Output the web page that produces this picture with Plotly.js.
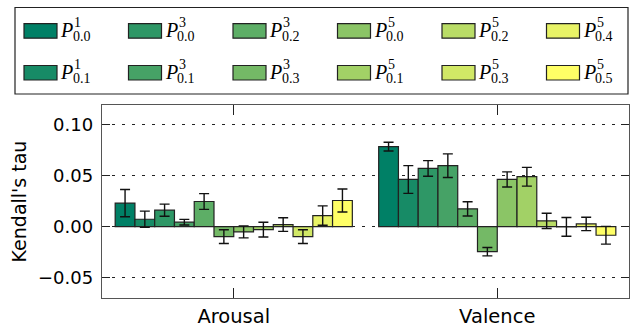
<!DOCTYPE html>
<html>
<head>
<meta charset="utf-8">
<script src="https://cdn.plot.ly/plotly-3.0.1.min.js"></script>
<style>html,body{margin:0;padding:0;background:#fff;}#chart{width:638px;height:329px;}</style>
</head>
<body>
<div id="chart"></div>
<script>
// ---- data ----
const categories = ['Arousal', 'Valence'];
const seriesSup = ['1', '1', '3', '3', '3', '3', '5', '5', '5', '5', '5', '5'];
const seriesSub = ['0.0', '0.1', '0.0', '0.1', '0.2', '0.3', '0.0', '0.1', '0.2', '0.3', '0.4', '0.5'];
const arousalValues = [0.0230, 0.0072, 0.0161, 0.0043, 0.0246, -0.0098, -0.0052, -0.0030, 0.0020, -0.0098, 0.0108, 0.0256];
const arousalErrors = [0.0133, 0.0080, 0.0059, 0.0028, 0.0077, 0.0067, 0.0059, 0.0072, 0.0067, 0.0067, 0.0095, 0.0113];
const valenceValues = [0.0784, 0.0462, 0.0570, 0.0597, 0.0174, -0.0246, 0.0462, 0.0489, 0.0056, -0.0003, 0.0026, -0.0085];
const valenceErrors = [0.0043, 0.0136, 0.0077, 0.0116, 0.0070, 0.0041, 0.0074, 0.0092, 0.0075, 0.0092, 0.0066, 0.0087];
const yTickVals = [-0.05, 0.00, 0.05, 0.10];

// ---- styles ----
const colors = ['#008066', '#178b66', '#2e9766', '#46a266', '#5dae66', '#74b966',
                '#8bc566', '#a2d166', '#b9dc66', '#d1e866', '#e8f366', '#ffff66'];

const W = 638, H = 329;
const M = {l: 102, r: 9, t: 105, b: 31};
const PW = W - M.l - M.r, PH = H - M.t - M.b;
const xp = px => (px - M.l) / PW;
const yp = py => (H - M.b - py) / PH;

const traces = seriesSub.map((s, i) => ({
  type: 'bar',
  x: categories,
  y: [arousalValues[i], valenceValues[i]],
  name: 'P' + seriesSup[i] + '_' + s,
  marker: {color: colors[i], line: {color: '#222', width: 1.2}},
  error_y: {type: 'data', array: [arousalErrors[i], valenceErrors[i]], visible: true,
            color: '#111', thickness: 1.4, width: 5},
  showlegend: false
}));

// manual legend (stacked super/subscripts)
const shapes = [{type: 'rect', xref: 'paper', yref: 'paper',
  x0: xp(15), x1: xp(628), y0: yp(94), y1: yp(7.5),
  line: {color: '#222', width: 1.2}, fillcolor: 'rgba(0,0,0,0)'}];
const annotations = [];
const colStep = 104.5;
seriesSub.forEach((s, i) => {
  const col = Math.floor(i / 2), row = i % 2;
  const x0 = 24 + col * colStep;
  const yTop = row === 0 ? 23.7 : 65.5;
  shapes.push({type: 'rect', xref: 'paper', yref: 'paper',
    x0: xp(x0), x1: xp(x0 + 33), y0: yp(yTop + 14.5), y1: yp(yTop),
    fillcolor: colors[i], line: {color: '#222', width: 1.2}});
  const cy = yTop + 6.5;
  annotations.push({xref: 'paper', yref: 'paper', x: xp(x0 + 35), y: yp(cy),
    xanchor: 'left', yanchor: 'middle', showarrow: false, text: '<i>P</i>',
    font: {family: 'Liberation Serif, serif', size: 20, color: '#000'}, borderpad: 0});
  annotations.push({xref: 'paper', yref: 'paper', x: xp(x0 + 49), y: yp(cy - 7.5),
    xanchor: 'left', yanchor: 'middle', showarrow: false, text: seriesSup[i],
    font: {family: 'Liberation Serif, serif', size: 14, color: '#000'}, borderpad: 0});
  annotations.push({xref: 'paper', yref: 'paper', x: xp(x0 + 47.5), y: yp(cy + 6.5),
    xanchor: 'left', yanchor: 'middle', showarrow: false, text: s,
    font: {family: 'Liberation Serif, serif', size: 14, color: '#000'}, borderpad: 0});
});

const layout = {
  width: W, height: H,
  margin: M,
  paper_bgcolor: '#fff', plot_bgcolor: '#fff',
  barmode: 'group', bargap: 0.1, bargroupgap: 0,
  showlegend: false,
  font: {family: 'DejaVu Sans, sans-serif', color: '#000'},
  xaxis: {
    type: 'category', range: [-0.5, 1.5],
    showline: true, linecolor: '#555', linewidth: 1.3, mirror: 'ticks',
    ticks: 'inside', ticklen: 10, tickcolor: '#222', tickwidth: 1.3,
    showgrid: false, zeroline: false,
    tickfont: {size: 19.5, family: 'DejaVu Sans, sans-serif'},
    ticklabelstandoff: 0
  },
  yaxis: {
    range: [-0.07, 0.1192],
    tickvals: yTickVals, tickformat: '.2f',
    showline: true, linecolor: '#555', linewidth: 1.3, mirror: 'ticks',
    ticks: 'inside', ticklen: 8, tickcolor: '#222', tickwidth: 1.3,
    showgrid: true, gridcolor: '#222', gridwidth: 1.4, griddash: '3px,7px',
    zeroline: false,
    tickfont: {size: 18, family: 'DejaVu Sans, sans-serif'},
    ticklabelstandoff: 4,
    title: {text: "Kendall's tau", font: {size: 19, family: 'DejaVu Sans, sans-serif'}, standoff: 6}
  },
  shapes: shapes,
  annotations: annotations
};

Plotly.newPlot('chart', traces, layout, {displayModeBar: false, staticPlot: true});
</script>
</body>
</html>
